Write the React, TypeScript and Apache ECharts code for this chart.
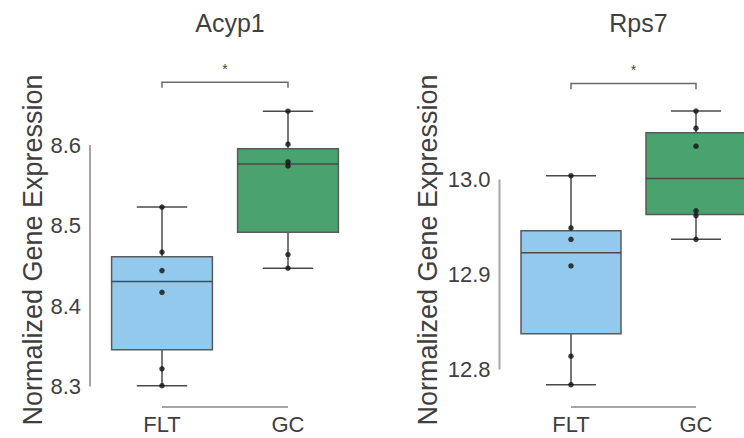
import React, { useEffect, useRef } from 'react';
import * as echarts from 'echarts';

const categories = ['FLT', 'GC'];
const panelTitles = ['Acyp1', 'Rps7'];
const yAxisTitle = 'Normalized Gene Expression';

const acyp1FLT = [8.301, 8.322, 8.417, 8.444, 8.467, 8.523];
const acyp1GC = [8.447, 8.464, 8.574, 8.579, 8.601, 8.642];
const rps7FLT = [12.784, 12.814, 12.909, 12.937, 12.949, 13.004];
const rps7GC = [12.937, 12.962, 12.967, 13.035, 13.054, 13.072];

const acyp1Ticks = [8.3, 8.4, 8.5, 8.6];
const rps7Ticks = [12.8, 12.9, 13.0];

const acyp1Range = [8.287, 8.6522];
const rps7Range = [12.7711, 13.0805];

// bracket: [tick bottom, bar, star]
const acyp1Bracket = [8.671, 8.678, 8.695];
const rps7Bracket = [13.095, 13.101, 13.115];
const significance = ['*', '*'];

const boxColors = ['#92C9EC', '#4AA26F'];
const FONT = "'Liberation Sans', Arial, Helvetica, sans-serif";
const TEXT = '#3f3f3f';

function quantile(sorted: number[], q: number) {
  const pos = (sorted.length - 1) * q;
  const lo = Math.floor(pos);
  const hi = Math.ceil(pos);
  return sorted[lo] + (sorted[hi] - sorted[lo]) * (pos - lo);
}

function boxStats(values: number[]) {
  const s = [...values].sort((a, b) => a - b);
  const q1 = quantile(s, 0.25);
  const med = quantile(s, 0.5);
  const q3 = quantile(s, 0.75);
  const iqr = q3 - q1;
  const inside = s.filter((v) => v >= q1 - 1.5 * iqr && v <= q3 + 1.5 * iqr);
  return [inside[0], q1, med, q3, inside[inside.length - 1]];
}

export default function App() {
  const ref = useRef<HTMLDivElement>(null);
  useEffect(() => {
    if (!ref.current) return;
    const chart = echarts.init(ref.current, undefined, { renderer: 'svg' });

    const panels = [
      { groups: [acyp1FLT, acyp1GC], ticks: acyp1Ticks, range: acyp1Range, bracket: acyp1Bracket, left: 99, width: 252, nameGap: 53 },
      { groups: [rps7FLT, rps7GC], ticks: rps7Ticks, range: rps7Range, bracket: rps7Bracket, left: 508.5, width: 250, nameGap: 67 },
    ];

    const grids = panels.map((p) => ({
      left: p.left,
      width: p.width,
      top: 103,
      bottom: 41,
      containLabel: false,
      outerBoundsMode: 'none',
    }));
    const xAxes = panels.map((p, i) => ({
      type: 'category',
      gridIndex: i,
      data: categories,
      axisLine: { show: false },
      axisTick: { show: false },
      axisLabel: { fontSize: 22, color: TEXT, fontFamily: FONT, margin: 16 },
      splitLine: { show: false },
    }));
    const yAxes = panels.map((p, i) => ({
      type: 'value',
      gridIndex: i,
      min: p.range[0],
      max: p.range[1],
      axisLine: { show: false },
      axisTick: { show: false },
      splitLine: { show: false },
      axisLabel: {
        customValues: p.ticks,
        fontSize: 22,
        color: TEXT,
        fontFamily: FONT,
        margin: 18,
        formatter: (v: number) => v.toFixed(1),
      },
      name: yAxisTitle,
      nameLocation: 'middle',
      nameGap: p.nameGap,
      nameTextStyle: { fontSize: 27, color: TEXT, fontFamily: FONT },
    }));

    const series: any[] = [];
    panels.forEach((p, i) => {
      // trimmed axis lines
      series.push({
        type: 'custom',
        xAxisIndex: i,
        yAxisIndex: i,
        z: 1,
        silent: true,
        data: [[0, p.ticks[0], p.ticks[p.ticks.length - 1]]],
        renderItem: (params: any, api: any) => {
          const cs = params.coordSys;
          const yLo = api.coord([0, api.value(1)])[1];
          const yHi = api.coord([0, api.value(2)])[1];
          const x0 = api.coord([0, api.value(1)])[0];
          const x1 = api.coord([categories.length - 1, api.value(1)])[0];
          const ax = cs.x - 9;
          const ay = cs.y + cs.height + 10;
          const st = { stroke: '#a6a6a6', lineWidth: 2 };
          return {
            type: 'group',
            children: [
              { type: 'line', shape: { x1: ax, y1: yLo, x2: ax, y2: yHi }, style: st },
              { type: 'line', shape: { x1: x0, y1: ay, x2: x1, y2: ay }, style: st },
            ],
          };
        },
      });
      // boxes
      series.push({
        type: 'custom',
        xAxisIndex: i,
        yAxisIndex: i,
        z: 2,
        silent: true,
        data: p.groups.map((g, k) => [k, ...boxStats(g)]),
        renderItem: (params: any, api: any) => {
          const k = api.value(0);
          const lo = api.coord([k, api.value(1)]);
          const q1 = api.coord([k, api.value(2)]);
          const med = api.coord([k, api.value(3)]);
          const q3 = api.coord([k, api.value(4)]);
          const hi = api.coord([k, api.value(5)]);
          const band = api.size([1, 0])[0];
          const bw = band * 0.8;
          const cx = lo[0];
          const capW = bw / 2;
          const line = { stroke: '#4a4a4a', lineWidth: 1.5 };
          return {
            type: 'group',
            children: [
              { type: 'line', shape: { x1: cx, y1: lo[1], x2: cx, y2: q1[1] }, style: line },
              { type: 'line', shape: { x1: cx, y1: q3[1], x2: cx, y2: hi[1] }, style: line },
              { type: 'line', shape: { x1: cx - capW / 2, y1: lo[1], x2: cx + capW / 2, y2: lo[1] }, style: line },
              { type: 'line', shape: { x1: cx - capW / 2, y1: hi[1], x2: cx + capW / 2, y2: hi[1] }, style: line },
              {
                type: 'rect',
                shape: { x: cx - bw / 2, y: q3[1], width: bw, height: q1[1] - q3[1] },
                style: { fill: boxColors[k], stroke: '#5a5a5a', lineWidth: 1.5 },
              },
              { type: 'line', shape: { x1: cx - bw / 2, y1: med[1], x2: cx + bw / 2, y2: med[1] }, style: { stroke: '#4a4a4a', lineWidth: 1.5 } },
            ],
          };
        },
      });
      // points
      series.push({
        type: 'scatter',
        xAxisIndex: i,
        yAxisIndex: i,
        z: 3,
        silent: true,
        symbolSize: 5.5,
        itemStyle: { color: '#111111' },
        data: p.groups.flatMap((g, k) => g.map((v) => [k, v])),
      });
      // significance bracket
      series.push({
        type: 'custom',
        xAxisIndex: i,
        yAxisIndex: i,
        z: 2,
        silent: true,
        clip: false,
        data: [[0, categories.length - 1, ...p.bracket]],
        renderItem: (params: any, api: any) => {
          const a0 = api.coord([api.value(0), api.value(2)]);
          const b0 = api.coord([api.value(1), api.value(2)]);
          const bar = api.coord([api.value(0), api.value(3)])[1];
          const star = api.coord([api.value(0), api.value(4)])[1];
          const st = { stroke: '#6a6a6a', lineWidth: 1.5, fill: 'none' };
          return {
            type: 'group',
            children: [
              {
                type: 'polyline',
                shape: { points: [[a0[0], a0[1]], [a0[0], bar], [b0[0], bar], [b0[0], b0[1]]] },
                style: st,
              },
              {
                type: 'text',
                x: (a0[0] + b0[0]) / 2,
                y: star,
                style: { text: significance[i], fontSize: 14, fill: TEXT, fontFamily: FONT, align: 'center', verticalAlign: 'middle' },
              },
            ],
          };
        },
      });
    });

    chart.setOption({
      animation: false,
      backgroundColor: '#ffffff',
      title: panels.map((p, i) => ({
        text: panelTitles[i],
        left: p.left + p.width / 2,
        textAlign: 'center',
        top: 5,
        textStyle: { fontSize: 25, fontWeight: 'normal', color: TEXT, fontFamily: FONT },
      })),
      grid: grids,
      xAxis: xAxes,
      yAxis: yAxes,
      series,
    });
    return () => chart.dispose();
  }, []);
  return <div ref={ref} style={{ position: 'absolute', left: 0, top: 0, width: 744, height: 438 }} />;
}
